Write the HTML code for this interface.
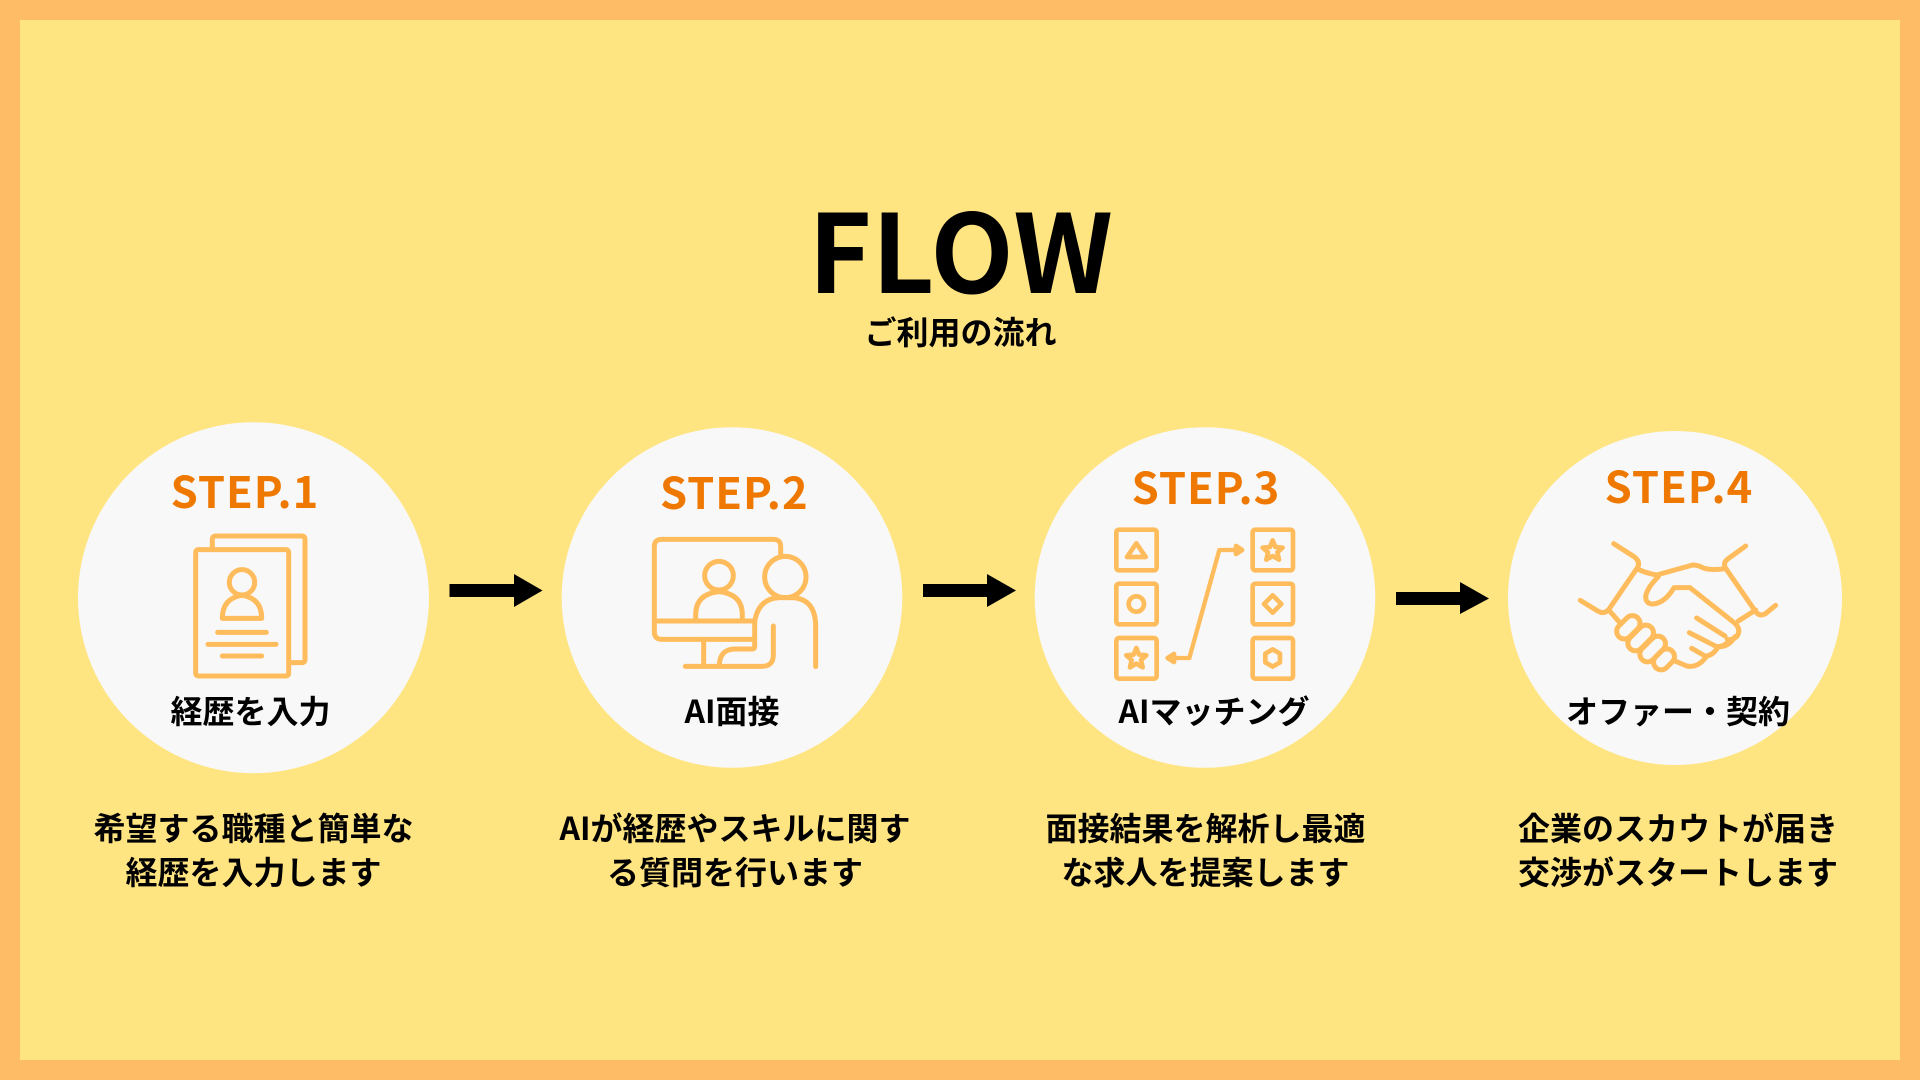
<!DOCTYPE html>
<html lang="ja"><head><meta charset="utf-8"><title>FLOW</title>
<style>
html,body{margin:0;padding:0;width:1920px;height:1080px;overflow:hidden;background:#FFE482}
svg{display:block}
text{font-family:"Noto Sans CJK JP","Liberation Sans",sans-serif;font-weight:700;text-anchor:middle;fill:#000}
.st{font-size:43.5px;fill:#EE7800;letter-spacing:1px}
.lb{font-size:32px}
.ds{font-size:32px}
.ic{fill:none;stroke:#FFBC5C;stroke-linecap:round;stroke-linejoin:round}
</style></head><body>
<svg width="1920" height="1080" viewBox="0 0 1920 1080" xmlns="http://www.w3.org/2000/svg">
<rect x="10" y="10" width="1900" height="1060" fill="#FFE482" stroke="#FFBC66" stroke-width="20"/>
<text x="960.5" y="293" style="font-size:108.5px">FLOW</text>
<text x="960.5" y="344" style="font-size:32px">ご利用の流れ</text>

<circle cx="253.5" cy="597.7" r="175.5" fill="#F8F8F8"/>
<circle cx="732" cy="597.5" r="170.3" fill="#F8F8F8"/>
<circle cx="1205" cy="597.5" r="170.3" fill="#F8F8F8"/>
<circle cx="1675" cy="598" r="167" fill="#F8F8F8"/>

<text class="st" x="245" y="508">STEP.1</text>
<text class="st" x="734.3" y="509">STEP.2</text>
<text class="st" x="1206" y="504">STEP.3</text>
<text class="st" x="1679" y="503">STEP.4</text>

<text class="lb" x="250.5" y="723">経歴を入力</text>
<text class="lb" x="732" y="723">AI面接</text>
<text class="lb" x="1214" y="723">AIマッチング</text>
<text class="lb" x="1678" y="723">オファー・契約</text>

<text class="ds" x="253.5" y="840">希望する職種と簡単な</text>
<text class="ds" x="253.5" y="884">経歴を入力します</text>
<text class="ds" x="735" y="840">AIが経歴やスキルに関す</text>
<text class="ds" x="735" y="884">る質問を行います</text>
<text class="ds" x="1205.5" y="840">面接結果を解析し最適</text>
<text class="ds" x="1205.5" y="884">な求人を提案します</text>
<text class="ds" x="1678" y="840">企業のスカウトが届き</text>
<text class="ds" x="1678" y="884">交渉がスタートします</text>

<g fill="#000">
<path d="M449.5 584H514V574L542.5 590.5L514 607V597H449.5Z"/>
<path d="M923 584H987V574L1016 590.5L987 607V597H923Z"/>
<path d="M1396 592H1460V582L1489 598.5L1460 614V605H1396Z"/>
</g>

<!-- icon 1 -->
<g class="ic" transform="translate(60,410) scale(.33333)" stroke-width="15">
<path d="M457 412V388Q457 378 467 378H725Q735 378 735 388V748Q735 758 725 758H690"/>
<rect x="407" y="419" width="279" height="379" rx="8"/>
<circle cx="546" cy="517" r="38"/>
<path d="M487 625Q487 565 546 556Q605 565 605 625Z"/>
<path d="M473 667H619M444 703H648M487 738H605"/>
</g>

<!-- icon 2 -->
<g class="ic" transform="translate(550,420) scale(.33333)" stroke-width="15">
<path d="M692 405V380Q692 358 670 358H335Q313 358 313 380V635Q313 658 335 658H610"/>
<path d="M313 603H612"/>
<path d="M461 658V738"/>
<path d="M406 739H635Q670 739 670 705V618"/>
<circle cx="507" cy="467" r="43"/>
<path d="M437 600V585Q437 522 507 515Q577 522 577 585V600"/>
<circle cx="706" cy="471" r="62"/>
<path d="M614 605Q625 535 690 533H725Q797 535 797 620V740"/>
<path d="M614 600V680Q614 687 607 687H555Q510 687 508 735"/>
</g>

<!-- icon 3 -->
<g class="ic" transform="translate(1020,420) scale(.33333)" stroke-width="14">
<rect x="289" y="329" width="121" height="122" rx="8"/>
<rect x="289" y="491" width="121" height="122" rx="8"/>
<rect x="289" y="654" width="121" height="122" rx="8"/>
<rect x="698" y="329" width="121" height="122" rx="8"/>
<rect x="698" y="491" width="121" height="122" rx="8"/>
<rect x="698" y="654" width="121" height="122" rx="8"/>
<path d="M349 370L377 411H321Z"/>
<circle cx="349" cy="552" r="23"/>
<path transform="translate(349,716)" d="M0-32L8-12L30-10L14 4L19 26L0 15L-19 26L-14 4L-30-10L-8-12Z"/>
<path transform="translate(758,393)" d="M0-32L8-12L30-10L14 4L19 26L0 15L-19 26L-14 4L-30-10L-8-12Z"/>
<path d="M758 526L784 552L758 578L732 552Z"/>
<path d="M758 688L780 701V727L758 740L736 727V701Z"/>
<path d="M460 714H508L598 390H650" stroke-width="13"/>
<path d="M443 714L462 702V726Z" fill="#FFBC5C"/>
<path d="M666 390L648 378V402Z" fill="#FFBC5C"/>
</g>

<!-- icon 4 -->
<g class="ic" transform="translate(1490,420) scale(.33333)" stroke-width="15">
<path d="M371 371L432 410Q452 425 443 442L358 566Q345 584 325 574L271 541"/>
<path d="M767 378L712 418Q698 430 707 445L797 575Q808 590 825 582L857 556"/>
<path d="M445 448Q470 460 500 465L608 435Q625 435 640 444Q665 452 705 446"/>
<path d="M505 470Q470 505 467 530Q467 552 490 552Q525 548 552 503H600L735 610Q755 630 740 650Q725 662 712 658"/>
<path d="M745 603L797 570"/>
<path d="M358 572L393 612"/>
<path d="M620 594L705 648"/>
<path d="M598 638L680 680Q700 680 712 668"/>
<path d="M605 685L640 705"/>
<path d="M735 650Q715 682 685 680Q670 705 650 708Q625 745 590 738L553 722"/>
<rect x="375" y="599" width="80" height="46" rx="23" transform="rotate(-45 415 622)"/>
<rect x="407" y="631" width="90" height="46" rx="23" transform="rotate(-45 452 654)"/>
<rect x="443" y="664" width="90" height="46" rx="23" transform="rotate(-45 488 687)"/>
<rect x="487" y="695" width="70" height="46" rx="23" transform="rotate(-45 522 718)"/>
</g>
</svg>
</body></html>
